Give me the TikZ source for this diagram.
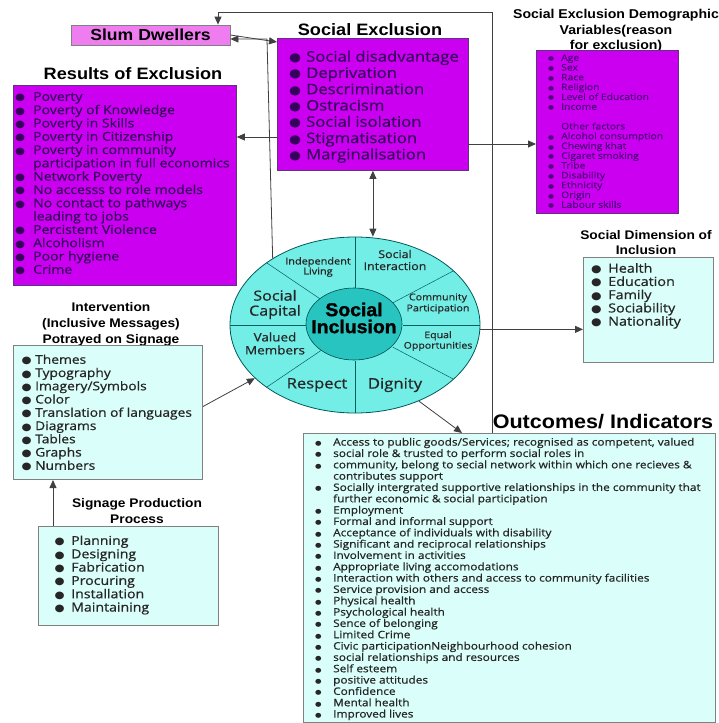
\documentclass[tikz,border=0pt]{standalone}
\usepackage{fontspec}
\setmainfont{Open Sans}[FakeStretch=1.15,FakeBold=0.7]
\newfontfamily\headfont{Liberation Sans}[FakeStretch=1.1]
\newfontfamily\heavyfont{Liberation Sans}[FakeStretch=1.05,FakeBold=1.5]
\newfontfamily\symfont{DejaVu Sans}[FakeStretch=1.15]
\usepackage{array}
\usetikzlibrary{arrows.meta,shapes.geometric,calc}

\definecolor{exclfill}{RGB}{204,0,240}
\definecolor{slumfill}{RGB}{240,125,240}
\definecolor{palefill}{RGB}{218,255,250}
\definecolor{rimfill}{RGB}{115,238,230}
\definecolor{corefill}{RGB}{40,196,192}
\definecolor{exclink}{RGB}{55,0,95}
\definecolor{demink}{RGB}{80,0,125}

% bullet list: width of bullet column, bullet size
\newenvironment{blist}[2]{\begin{tabular}{@{}>{\fontsize{#2}{#2}\symfont}p{#1}@{}l@{}}}{\end{tabular}}

\tikzset{
  excl/.style={
    draw = exclink!80,
    fill = exclfill,
    line width = 0.8pt,
    inner sep = 0pt
  },
  slum/.style={
    draw = gray,
    fill = slumfill,
    line width = 0.8pt,
    inner sep = 0pt
  },
  pale/.style={
    draw = gray,
    fill = palefill,
    line width = 1pt,
    inner sep = 0pt
  },
  boxat/.style 2 args={
    minimum width = #1pt,
    minimum height = #2pt,
    anchor = north west
  },
  heading/.style 2 args={
    font = \fontsize{#1}{#2}\headfont\bfseries,
    align = center,
    inner sep = 0pt
  },
  list/.style 2 args={
    font = \fontsize{#1}{#2}\selectfont,
    anchor = north west,
    inner sep = 0pt,
    text = black!85
  },
  seg/.style 2 args={
    font = \fontsize{#1}{#2}\selectfont,
    align = center,
    inner sep = 0pt,
    text = black!85
  },
  rim/.style={
    ellipse,
    draw = teal!70!black,
    fill = rimfill,
    line width = 0.8pt,
    inner sep = 0pt
  },
  core/.style={
    ellipse,
    draw = teal!60!black,
    fill = corefill,
    line width = 0.6pt,
    inner sep = 0pt
  },
  sector/.style={
    draw = teal!75!black,
    line width = 0.5pt
  },
  arr/.style={
    draw = black!75,
    line width = 0.8pt,
    -{Triangle[length=8pt,width=7pt]}
  },
  dblarr/.style={
    draw = black!75,
    line width = 0.8pt,
    {Triangle[length=8pt,width=7pt]}-{Triangle[length=8pt,width=7pt]}
  }
}

\begin{document}
\begin{tikzpicture}[x=1pt,y=-1pt]
  \path[fill=white] (0,0) rectangle (719,723);
  \useasboundingbox (0,0) rectangle (719,723);

  % Slum dwellers and social exclusion
  \node[slum, heading={16}{20}, minimum width=159pt, minimum height=20pt] (slum) at (150.5,35) {Slum Dwellers};
  \node[heading={16.5}{20}] (exclT) at (370,30) {Social Exclusion};
  \node[excl, boxat={191}{132}] (excl) at (277,38) {};
  \node[list={14.5}{16.3}, text=exclink] (exclL) at (289,50) {\begin{blist}{17pt}{12}
    ●&Social disadvantage\\
    ●&Deprivation\\
    ●&Descrimination\\
    ●&Ostracism\\
    ●&Social isolation\\
    ●&Stigmatisation\\
    ●&Marginalisation
  \end{blist}};

  % Results of exclusion
  \node[heading={16.5}{20}] (resT) at (133,74) {Results of Exclusion};
  \node[excl, boxat={223}{200}] (res) at (13,85) {};
  \node[list={12.2}{13.3}, text=exclink] (resL) at (15,91.3) {\begin{blist}{18pt}{10}
    ●&Poverty\\
    ●&Poverty of Knowledge\\
    ●&Poverty in Skills\\
    ●&Poverty in Citizenship\\
    ●&Poverty in community\\
    &participation in full economics\\
    ●&Network Poverty\\
    ●&No accesss to role models\\
    ●&No contact to pathways\\
    &leading to jobs\\
    ●&Percistent Violence\\
    ●&Alcoholism\\
    ●&Poor hygiene\\
    ●&Crime
  \end{blist}};

  % Demographic variables
  \node[heading={12.8}{15.5}] (demT) at (616,31) {Social Exclusion Demographic\\Variables(reason\\for exclusion)};
  \node[excl, boxat={142}{163}] (dem) at (536,50) {};
  \node[list={9}{9.8}, text=demink] (demL) at (548,53.7) {\begin{blist}{13pt}{6}
    ●&Age\\
    ●&Sex\\
    ●&Race\\
    ●&Religion\\
    ●&Level of Education\\
    ●&Income\\
    &\\
    &Other factors\\
    ●&Alcohol consumption\\
    ●&Chewing khat\\
    ●&Cigaret smoking\\
    ●&Tribe\\
    ●&Disability\\
    ●&Ethnicity\\
    ●&Origin\\
    ●&Labour skills
  \end{blist}};

  % Social dimension of inclusion
  \node[heading={12.5}{15}] (dimT) at (646,242.5) {Social Dimension of\\Inclusion};
  \node[pale, boxat={130}{105}] (dim) at (583,257) {};
  \node[list={12.5}{12.5}] (dimL) at (591,263) {\begin{blist}{17pt}{10.5}
    ●&Health\\
    ●&Education\\
    ●&Family\\
    ●&Sociability\\
    ●&Nationality
  \end{blist}};

  % Intervention
  \node[heading={12.5}{16}] (intT) at (111,324) {Intervention\\(Inclusive Messages)\\Potrayed on Signage};
  \node[pale, boxat={189}{134}] (int) at (13,345) {};
  \node[list={12}{13.25}] (intL) at (21.5,354.3) {\begin{blist}{13.5pt}{10}
    ●&Themes\\
    ●&Typography\\
    ●&Imagery/Symbols\\
    ●&Color\\
    ●&Translation of languages\\
    ●&Diagrams\\
    ●&Tables\\
    ●&Graphs\\
    ●&Numbers
  \end{blist}};

  % Signage production
  \node[heading={12.5}{16}] (prodT) at (137,511) {Signage Production\\Process};
  \node[pale, boxat={180}{99}] (prod) at (38,526) {};
  \node[list={12.3}{13.3}] (prodL) at (54.5,535.4) {\begin{blist}{16.5pt}{10}
    ●&Planning\\
    ●&Designing\\
    ●&Fabrication\\
    ●&Procuring\\
    ●&Installation\\
    ●&Maintaining
  \end{blist}};

  % Outcomes
  \node[heading={19.6}{24}] (outT) at (603,422) {Outcomes/ Indicators};
  \node[pale, boxat={412}{289}] (out) at (303,433) {};
  \node[list={10.3}{11.33}] (outL) at (315,437.5) {\begin{blist}{18pt}{6.5}
    ●&Access to public goods/Services; recognised as competent, valued\\
    ●&social role \& trusted to perform social roles in\\
    ●&community, belong to secial network within which one recieves \&\\
    &contributes support\\
    ●&Socially intergrated supportive relationships in the community that\\
    &further economic \& social participation\\
    ●&Employment\\
    ●&Formal and informal support\\
    ●&Acceptance of individuals with disability\\
    ●&Significant and reciprocal relationships\\
    ●&Involvement in activities\\
    ●&Appropriate living accomodations\\
    ●&Interaction with others and access to community facilities\\
    ●&Service provision and access\\
    ●&Physical health\\
    ●&Psychological health\\
    ●&Sence of belonging\\
    ●&Limited Crime\\
    ●&Civic participationNeighbourhood cohesion\\
    ●&social relationships and resources\\
    ●&Self esteem\\
    ●&positive attitudes\\
    ●&Confidence\\
    ●&Mental health\\
    ●&Improved lives
  \end{blist}};

  % Social inclusion wheel
  \node[rim, minimum width=250pt, minimum height=176pt] (incl) at (355,325) {};
  \foreach \t in {-38,0,38,90,135,180,225,270}
    \draw[sector] ({355+48*cos(\t)},{325-36*sin(\t)}) -- ({355+125*cos(\t)},{325-88*sin(\t)});
  \node[core, minimum width=96pt, minimum height=72pt] (core) at (354,324) {};
  \node[font=\fontsize{18.5}{17}\heavyfont\bfseries, align=center, inner sep=0pt] (coreT) at (354,318) {Social\\Inclusion};
  \node[seg={9.5}{10}] (indep) at (318,267) {Independent\\Living};
  \node[seg={10.8}{12}] (inter) at (395,260) {Social\\Interaction};
  \node[seg={14}{15}] (capital) at (275,304.5) {Social\\Capital};
  \node[seg={9.3}{11}] (comm) at (438,303.5) {Community\\Participation};
  \node[seg={11.7}{13}] (valued) at (275,343.5) {Valued\\Members};
  \node[seg={9.2}{10.5}] (equal) at (438,341) {Equal\\Opportunities};
  \node[seg={14.4}{15}] (respect) at (317,385) {Respect};
  \node[seg={14.5}{15}] (dignity) at (395,385) {Dignity};

  % connectors
  \coordinate (loopR) at (492,12);
  \coordinate (loopL) at (218,12);
  \coordinate (bendS) at (267,39);
  \coordinate (exclW) at (277,137);
  \coordinate (exclE) at (468,144);
  \coordinate (outIn) at (462,433);
  \coordinate (prodUp) at (53,526);
  \draw[arr] (out.north -| loopR) -- (loopR) -- (loopL) -- (loopL |- slum.north);
  \draw[arr] (slum.east) -- ([yshift=-4pt]excl.north west);
  \draw[arr] (incl.141) -- (bendS) -- (bendS -| slum.east);
  \draw[arr] (exclW) -- (exclW -| res.east);
  \draw[arr] (exclE) -- (exclE -| dem.west);
  \draw[dblarr] (excl.south) -- (excl.south |- incl.north);
  \draw[arr] (incl.-2) -- (incl.-2 -| dim.west);
  \draw[arr] (incl.-50) -- (outIn);
  \draw[arr] ([yshift=6pt]int.east) -- (incl.208);
  \draw[arr] (prodUp) -- (prodUp |- int.south);
\end{tikzpicture}
\end{document}
